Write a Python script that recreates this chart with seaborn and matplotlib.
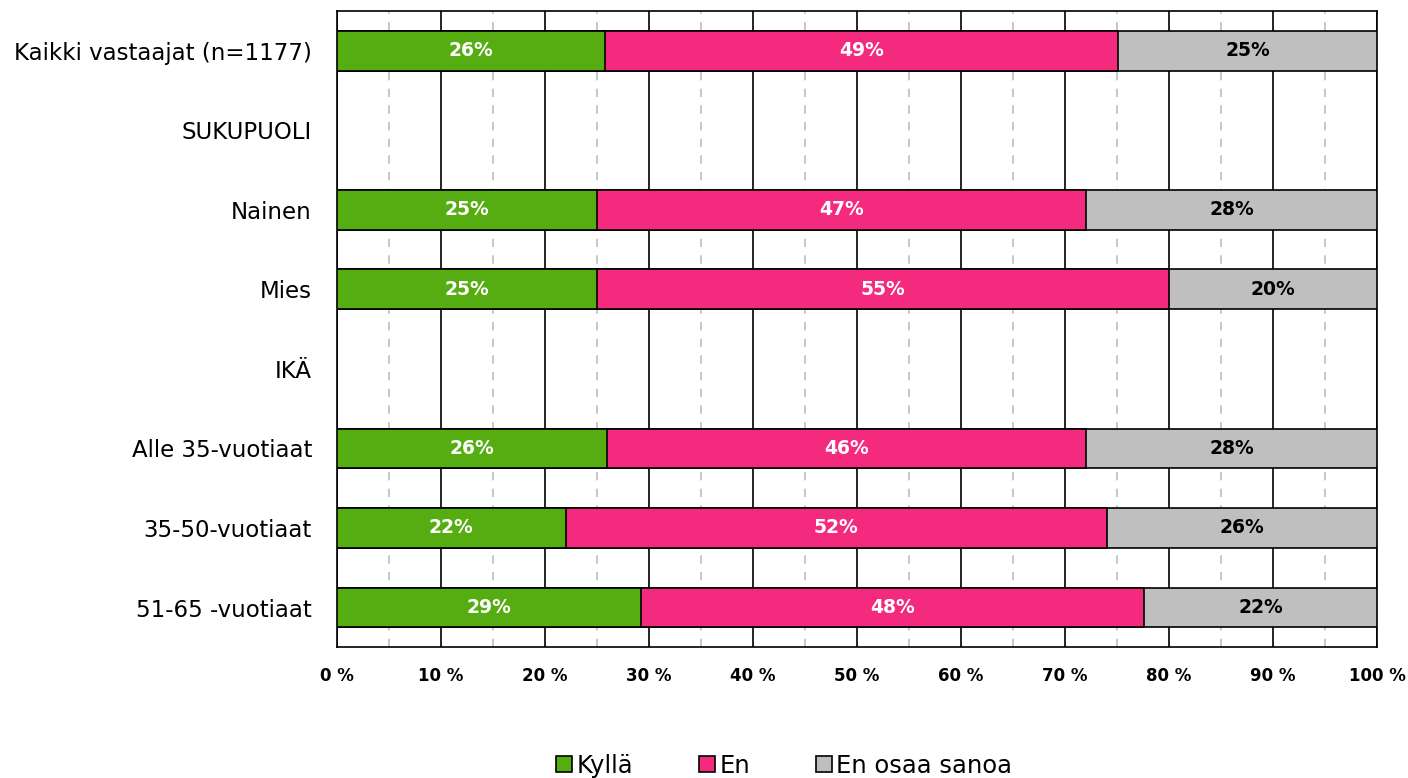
import pandas as pd
import numpy as np
import matplotlib.pyplot as plt
import seaborn as sns
from matplotlib.ticker import MultipleLocator, FuncFormatter
from matplotlib.patches import Patch

sns.set_style("white")
plt.rcParams['font.family'] = ['DejaVu Sans']
plt.rcParams['text.color'] = 'black'
plt.rcParams['xtick.color'] = 'black'
plt.rcParams['ytick.color'] = 'black'

# data
groups = ["Kaikki vastaajat (n=1177)", "SUKUPUOLI", "Nainen", "Mies", "IKÄ",
          "Alle 35-vuotiaat", "35-50-vuotiaat", "51-65 -vuotiaat"]
kylla = [25.8, np.nan, 25.0, 25.0, np.nan, 26.0, 22.0, 29.2]
en = [49.3, np.nan, 47.0, 55.0, np.nan, 46.0, 52.0, 48.4]
eos = [24.9, np.nan, 28.0, 20.0, np.nan, 28.0, 26.0, 22.4]
series = ["Kyllä", "En", "En osaa sanoa"]
colors = ["#56ad12", "#f42a7e", "#bfbfbf"]
text_colors = ["white", "white", "black"]

df = pd.DataFrame({"group": groups, "Kyllä": kylla, "En": en, "En osaa sanoa": eos})
df["c1"] = df["Kyllä"]
df["c2"] = df["Kyllä"] + df["En"]
df["c3"] = df["c2"] + df["En osaa sanoa"]

fig, ax = plt.subplots(figsize=(14.08, 7.78), dpi=100)
fig.subplots_adjust(left=0.2393, right=0.978, top=0.986, bottom=0.168)

# stacked bars drawn from the back (cumulative totals)
for col, color in zip(["c3", "c2", "c1"], colors[::-1]):
    sns.barplot(data=df, y="group", x=col, order=groups, color=color, saturation=1,
                edgecolor="black", linewidth=1.2, width=0.5, orient="h",
                ax=ax, zorder=3, errorbar=None)

# value labels
for i, g in enumerate(groups):
    row = df.iloc[i]
    left = 0
    for s, tc in zip(series, text_colors):
        v = row[s]
        if pd.isna(v):
            continue
        ax.text(left + v / 2, i, f"{v:.0f}%", ha="center", va="center",
                color=tc, fontsize=13.5, fontweight="bold", zorder=5)
        left += v

ax.set_xlim(0, 100)
ax.set_ylim(len(groups) - 0.5, -0.5)
ax.xaxis.set_major_locator(MultipleLocator(10))
ax.xaxis.set_minor_locator(MultipleLocator(5))
ax.xaxis.set_major_formatter(FuncFormatter(lambda x, p: f"{x:.0f} %"))
ax.grid(axis="x", which="major", color="black", linewidth=1.2, zorder=0)
ax.grid(axis="x", which="minor", color="#bdbdbd", linestyle=(0, (5, 5)), linewidth=1.2, zorder=0)
ax.set_axisbelow(True)
for sp in ax.spines.values():
    sp.set_color("black")
    sp.set_linewidth(1.2)

ax.set_xlabel("")
ax.set_ylabel("")
ax.tick_params(axis="y", length=0, labelsize=16.5, pad=18)
ax.tick_params(axis="x", which="both", length=0, labelsize=12, pad=14)
for lbl in ax.get_xticklabels():
    lbl.set_fontweight("bold")

handles = [Patch(facecolor=c, edgecolor="black", linewidth=1.2, label=s) for s, c in zip(series, colors)]
fig.legend(handles=handles, loc="lower center", bbox_to_anchor=(0.557, -0.028), ncol=3,
           frameon=False, fontsize=17.5, handlelength=0.65, handleheight=0.65,
           handletextpad=0.2, columnspacing=2.7)

plt.savefig("out.png", dpi=100)
plt.close()
